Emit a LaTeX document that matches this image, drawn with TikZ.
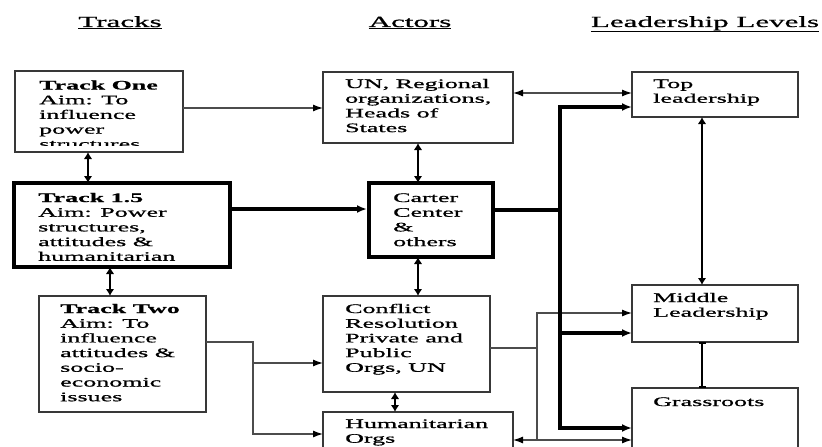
\documentclass[tikz,border=0pt]{standalone}
\usepackage{fontspec}
\setmainfont{Liberation Serif}[FakeStretch=2.0, UprightFeatures={FakeBold=0.9}, BoldFeatures={FakeBold=0.6}]
\usetikzlibrary{arrows.meta,calc}
\tikzset{
  box/.style={draw=black!78, line width=1.3pt, anchor=north west, inner sep=0pt, outer sep=0pt},
  thickbox/.style={box, draw=black, line width=4pt},
  txt/.style={anchor=base west, inner sep=0pt, font=\fontsize{13}{14.7}\selectfont},
  head/.style={anchor=base, inner sep=0pt, font=\fontsize{15.5}{17}\selectfont},
  conn/.style={draw=black!70, line width=1.25pt},
  tip/.tip={Latex[length=10pt,width=7pt,color=black]},
  heavy/.style={draw=black, line width=3.2pt},
  htip/.tip={Latex[length=10pt,width=8pt]},
  mid/.style={draw=black, line width=2pt},
  mtip/.tip={Latex[length=7pt,width=8.5pt]},
}
\begin{document}
\begin{tikzpicture}[x=1pt,y=-1pt]
\clip (0,0) rectangle (822,447);
% headings
\node[head] (hTracks) at (120,27) {\underline{Tracks}};
\node[head] (hActors) at (410,27) {\underline{Actors}};
\node[head] (hLevels) at (705,27) {\underline{Leadership Levels}};
% boxes
\node[box, minimum width=168pt, minimum height=81pt] (t1) at (15,71) {};
\node[thickbox, minimum width=216pt, minimum height=84pt] (t15) at (14,183) {};
\node[box, minimum width=167pt, minimum height=116pt] (t2) at (39,296) {};
\node[box, minimum width=190pt, minimum height=71pt] (un) at (323,72) {};
\node[thickbox, minimum width=124pt, minimum height=74pt] (carter) at (369,183) {};
\node[box, minimum width=167pt, minimum height=96pt] (conf) at (323,296) {};
\node[box, minimum width=190pt, minimum height=70pt] (hum) at (323,412) {};
\node[box, minimum width=166pt, minimum height=45pt] (top) at (632,72) {};
\node[box, minimum width=166pt, minimum height=57pt] (middle) at (632,285) {};
\node[box, minimum width=166pt, minimum height=90pt] (grass) at (632,388) {};
% texts
\begin{scope}
\clip (t1.north west) rectangle ($(t1.south east)+(0,-6.5)$);
\node[txt] (t1txt) at ($(t1.north west)+(24,18.5)$) {\parbox[t]{200pt}{\textbf{Track One}\\Aim: To\\influence\\power\\structures}};
\end{scope}
\node[txt] (t15txt) at ($(t15.north west)+(24,19)$) {\parbox[t]{220pt}{\textbf{Track 1.5}\\Aim: Power\\structures,\\attitudes \&\\humanitarian}};
\node[txt] (t2txt) at ($(t2.north west)+(21,17)$) {\parbox[t]{200pt}{\textbf{Track Two}\\Aim: To\\influence\\attitudes \&\\socio-\\economic\\issues}};
\node[txt] (untxt) at ($(un.north west)+(22,16)$) {\parbox[t]{200pt}{UN, Regional\\organizations,\\Heads of\\States}};
\node[txt] (cartxt) at ($(carter.north west)+(24,19)$) {\parbox[t]{200pt}{Carter\\Center\\\&\\others}};
\node[txt] (conftxt) at ($(conf.north west)+(22,17)$) {\parbox[t]{200pt}{Conflict\\Resolution\\Private and\\Public\\Orgs, UN}};
\node[txt] (humtxt) at ($(hum.north west)+(22,16)$) {\parbox[t]{200pt}{Humanitarian\\Orgs}};
\node[txt] (toptxt) at ($(top.north west)+(21,16)$) {\parbox[t]{200pt}{Top\\leadership}};
\node[txt] (midtxt) at ($(middle.north west)+(21,17)$) {\parbox[t]{200pt}{Middle\\Leadership}};
\node[txt] (grtxt) at ($(grass.north west)+(21,18)$) {\parbox[t]{200pt}{Grassroots}};
% junction coordinates
\coordinate (jT2) at (253,342);
\coordinate (jT2b) at (253,363);
\coordinate (jC) at (537,348);
\coordinate (jCtop) at (537,313);
\coordinate (jCbot) at (537,440);
\coordinate (busTop) at (560,107);
\coordinate (busMid) at (560,333);
\coordinate (busBot) at (560,428);
\coordinate (busIn) at (560,210);
% thin connectors
\draw[conn, -tip] (t1.east |- 0,108) -- (un.west |- 0,108);
\draw[conn, tip-tip] (un.east |- 0,93) -- (top.west |- 0,93);
\draw[conn, -tip] (t2.east |- jT2) -- (jT2) -- (253,434) -- (hum.west |- 0,434);
\draw[conn, -tip] (jT2b) -- (conf.west |- jT2b);
\draw[conn] (conf.east |- jC) -- (jC);
\draw[conn, -tip] (jCbot) -- (jCtop) -- (middle.west |- jCtop);
\draw[conn, tip-tip] (hum.east |- jCbot) -- (grass.west |- jCbot);
% heavy connectors
\draw[heavy, -htip, shorten >=2pt] (t15.east |- 0,209) -- (carter.west |- 0,209);
\draw[heavy] (carter.east |- busIn) -- (busIn);
\draw[heavy, htip-htip] (top.west |- busTop) -- (busTop) -- (busBot) -- (grass.west |- busBot);
\draw[heavy, -htip] (busMid) -- (middle.west |- busMid);
% vertical double arrows
\draw[mid, mtip-mtip] (t1.south -| 88,0) -- (t15.north -| 88,0);
\draw[mid, mtip-mtip] (t15.south -| 110,0) -- (t2.north -| 110,0);
\draw[mid, mtip-mtip] (un.south -| 418,0) -- (carter.north -| 418,0);
\draw[mid, mtip-mtip] (carter.south -| 418,0) -- (conf.north -| 418,0);
\draw[mid, mtip-mtip] (conf.south -| 395,0) -- (hum.north -| 395,0);
\draw[mid, mtip-mtip] (top.south -| 702,0) -- (middle.north -| 702,0);
\draw[mid, {Bar[width=7pt]}-{Bar[width=7pt]}] (middle.south -| 702,0) -- (grass.north -| 702,0);
\end{tikzpicture}
\end{document}
